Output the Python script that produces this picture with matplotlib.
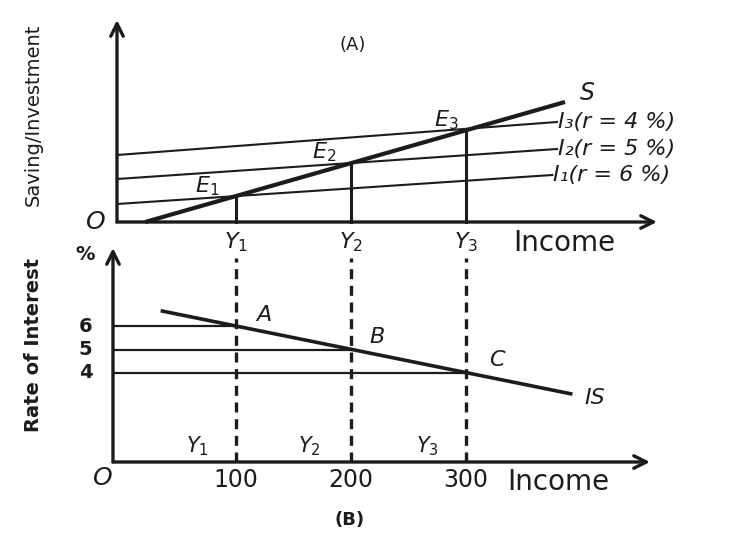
import numpy as np
import matplotlib
matplotlib.use("Agg")
import matplotlib.pyplot as plt

# ---------------- data ----------------
income_eq = [100, 200, 300]             # Y1, Y2, Y3
income_ticks = ["100", "200", "300"]
y_names = [r"$Y_1$", r"$Y_2$", r"$Y_3$"]
e_names = [r"$E_1$", r"$E_2$", r"$E_3$"]
point_names = ["A", "B", "C"]
rates = [6, 5, 4]                        # rate of interest, %
rate_ticks = ["6", "5", "4"]

# saving schedule (panel A)
S_income = [21, 386]
S_value = [0.0, 12.0]

# investment schedules I1, I2, I3 (panel A)
inv_start_income = [-3.5, -3.5, -3.5]
inv_end_income = [375, 379, 379]
inv_start_value = [1.8, 4.3, 6.7]
inv_end_value = [4.7, 7.3, 10.0]
inv_names = ["I₁(r = 6 %)", "I₂(r = 5 %)", "I₃(r = 4 %)"]

# IS curve (panel B)
IS_income = [36, 391]
IS_rate = [6.65, 3.1]

# ---------------- figure ----------------
W, H = 743, 534
fig = plt.figure(figsize=(W / 100, H / 100), dpi=100)
fig.patch.set_facecolor("white")
ink = "#1c1c1c"


def px_axes(l, r, b, t):
    return fig.add_axes([l / W, 1 - b / H, (r - l) / W, (b - t) / H])


def arrow(ax, x0, y0, x1, y1):
    ax.annotate("", xy=(x1, y1), xytext=(x0, y0),
                arrowprops=dict(arrowstyle="->,head_length=0.9,head_width=0.45",
                                lw=2.4, color=ink, shrinkA=0, shrinkB=0),
                annotation_clip=False)


# ---------- panel A ----------
axA = px_axes(117, 657, 222, 20)
axA.set_xlim(-3.5, 466)
axA.set_ylim(0, 20.2)
axA.axis("off")
arrow(axA, -3.5, 0, -3.5, 20.2)
arrow(axA, -3.5, 0, 466, 0)

axA.plot(S_income, S_value, color=ink, lw=3.0, solid_capstyle="butt", clip_on=False)
for xs, xe, vs, ve, nm in zip(inv_start_income, inv_end_income,
                              inv_start_value, inv_end_value, inv_names):
    axA.plot([xs, xe], [vs, ve], color=ink, lw=1.5, clip_on=False)
    axA.text(xe + 1, ve, nm, fontsize=16, style="italic", ha="left", va="center", color=ink)

for yi, yn, en in zip(income_eq, y_names, e_names):
    sv = np.interp(yi, S_income, S_value)
    axA.plot([yi, yi], [0, sv], color=ink, lw=2.2, clip_on=False)
    axA.text(yi, -2.0, yn, fontsize=16, ha="center", va="center", color=ink)

e_pos = [(75, 3.6), (177, 7.0), (283, 10.2)]
for (ex, ey), en in zip(e_pos, e_names):
    axA.text(ex, ey, en, fontsize=16, ha="center", va="center", color=ink)

axA.text(405, 12.9, r"$S$", fontsize=17, ha="center", va="center", color=ink)
axA.text(341, -2.1, "Income", fontsize=20, ha="left", va="center", color=ink)
axA.text(-22, 0.0, r"$O$", fontsize=18, ha="center", va="center", color=ink)
axA.text(201, 17.7, "(A)", fontsize=13, ha="center", va="center", color=ink)
axA.text(-76, 10.7, "Saving/Investment", fontsize=14, rotation=90,
         ha="center", va="center", color=ink)

# ---------- panel B ----------
axB = px_axes(113, 650, 462, 248)
axB.set_xlim(-7, 460)
axB.set_ylim(0.17, 9.36)
axB.axis("off")
arrow(axB, -7, 0.17, -7, 9.36)
arrow(axB, -7, 0.17, 460, 0.17)

axB.plot(IS_income, IS_rate, color=ink, lw=2.6, clip_on=False)
for yi, r, rt in zip(income_eq, rates, rate_ticks):
    axB.plot([-7, yi], [r, r], color=ink, lw=1.6, clip_on=False)
    axB.text(-31, r, rt, fontsize=14, fontweight="bold", ha="center", va="center", color=ink)

for yi, tl in zip(income_eq, income_ticks):
    axB.plot([yi, yi], [0.17, 8.93], color=ink, lw=2.4, ls=(0, (3, 2)), clip_on=False)
    axB.text(yi, -0.6, tl, fontsize=17, ha="center", va="center", color=ink)

ylab_pos = [66, 164, 266]
for yx, yn in zip(ylab_pos, y_names):
    axB.text(yx, 0.85, yn, fontsize=15, ha="center", va="center", color=ink)

pt_pos = [(124, 6.5), (223, 5.55), (327, 4.55)]
for (px_, py_), pn in zip(pt_pos, point_names):
    axB.text(px_, py_, pn, fontsize=16, style="italic", ha="center", va="center", color=ink)

axB.text(412, 2.9, "IS", fontsize=16, style="italic", ha="center", va="center", color=ink)
axB.text(-31, 9.1, "%", fontsize=14, fontweight="bold", ha="center", va="center", color=ink)
axB.text(-16, -0.5, r"$O$", fontsize=18, ha="center", va="center", color=ink)
axB.text(336, -0.68, "Income", fontsize=20, ha="left", va="center", color=ink)
axB.text(199, -2.3, "(B)", fontsize=13, fontweight="bold", ha="center", va="center", color=ink)
axB.text(-76, 5.2, "Rate of Interest", fontsize=14, fontweight="bold", rotation=90,
         ha="center", va="center", color=ink)

fig.savefig("out.png", dpi=100, facecolor="white")
